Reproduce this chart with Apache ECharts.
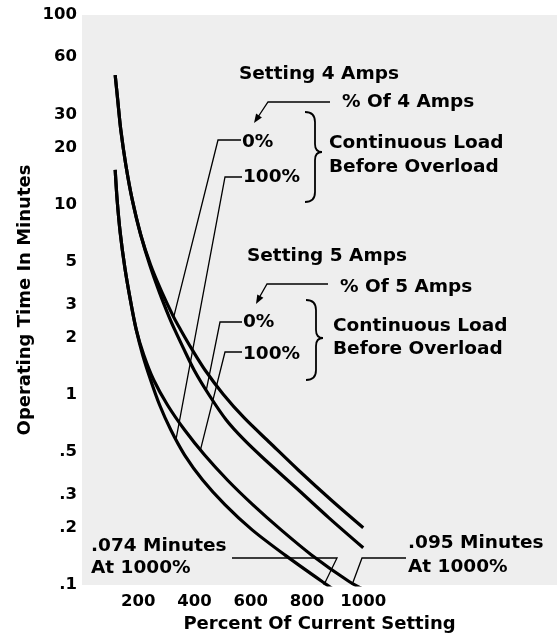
<!DOCTYPE html>
<html>
<head>
<meta charset="utf-8">
<script src="https://cdn.jsdelivr.net/npm/echarts@6/dist/echarts.min.js"></script>
<style>
  html, body { margin: 0; padding: 0; background: #ffffff; }
  #chart { width: 557px; height: 633px; }
</style>
</head>
<body>
<div id="chart"></div>
<script>
// Overload relay: operating time (minutes) against percent of current setting
const xTickValues = [200, 400, 600, 800, 1000];
const yTickValues = [0.1, 0.2, 0.3, 0.5, 1, 2, 3, 5, 10, 20, 30, 60, 100];

// Setting 4 A, 0 % continuous load before overload
const amps4Load0 = [
  [118, 48.3], [127, 35.7], [138, 24.8], [156, 16.2], [179, 10.6], [209, 6.95],
  [244, 4.83], [284, 3.48], [326, 2.57], [351, 2.20], [388, 1.77], [438, 1.35],
  [502, 1.01], [577, 0.757], [669, 0.559], [769, 0.403], [886, 0.280], [1000, 0.200]
];
// Setting 5 A, 0 % continuous load before overload
const amps5Load0 = [
  [118, 48.3], [127, 35.7], [138, 24.8], [156, 16.2], [179, 10.6], [209, 6.95],
  [241, 4.83], [275, 3.48], [310, 2.57], [330, 2.20], [360, 1.77], [399, 1.35],
  [452, 1.00], [513, 0.739], [577, 0.580], [644, 0.466], [762, 0.324], [879, 0.225],
  [1000, 0.157]
];
// Setting 4 A, 100 % continuous load before overload (.074 min at 1000 %)
const amps4Load100 = [
  [118, 15.3], [125, 10.6], [136, 7.12], [152, 4.72], [172, 3.16], [193, 2.20],
  [216, 1.62], [244, 1.20], [276, 0.886], [316, 0.654], [365, 0.483], [429, 0.357],
  [509, 0.264], [605, 0.195], [721, 0.144], [855, 0.104], [1000, 0.074]
];
// Setting 5 A, 100 % continuous load before overload (.095 min at 1000 %)
const amps5Load100 = [
  [118, 15.3], [125, 10.6], [136, 7.12], [152, 4.72], [172, 3.16], [193, 2.20],
  [220, 1.62], [255, 1.20], [304, 0.886], [365, 0.654], [436, 0.483], [517, 0.357],
  [608, 0.264], [708, 0.195], [816, 0.144], [951, 0.104], [1000, 0.095]
];

const FONT = '"DejaVu Sans", "Liberation Sans", sans-serif';
const INK = '#000000';

const chart = echarts.init(document.getElementById('chart'), null, { renderer: 'canvas' });

function curve(name, data) {
  return {
    name: name,
    type: 'line',
    data: data,
    showSymbol: false,
    smooth: 0.3,
    clip: true,
    lineStyle: { color: INK, width: 3.2 },
    emphasis: { disabled: true },
    silent: true
  };
}

function fmtY(v) {
  const n = Number(Number(v).toPrecision(3));
  return n < 1 ? String(n).replace(/^0/, '') : String(n);
}

chart.setOption({
  animation: false,
  grid: {
    left: 82, right: 0, top: 15, bottom: 48,
    outerBoundsMode: 'none',
    show: true, backgroundColor: '#eeeeee', borderWidth: 0
  },
  xAxis: {
    type: 'value',
    min: 0, max: 1689, interval: 200,
    axisLine: { show: false }, axisTick: { show: false }, splitLine: { show: false },
    axisLabel: {
      showMaxLabel: false,
      margin: 8,
      color: INK, fontSize: 16.5, fontWeight: 'bold', fontFamily: FONT,
      formatter: v => (xTickValues.indexOf(v) >= 0 ? String(v) : '')
    },
    name: 'Percent Of Current Setting',
    nameLocation: 'middle', nameGap: 25,
    nameTextStyle: { color: INK, fontSize: 18, fontWeight: 'bold', fontFamily: FONT }
  },
  yAxis: {
    type: 'log', logBase: 10, min: 0.1, max: 100,
    axisLine: { show: false }, axisTick: { show: false }, splitLine: { show: false },
    axisLabel: {
      customValues: yTickValues,
      margin: 5,
      color: INK, fontSize: 16.5, fontWeight: 'bold', fontFamily: FONT,
      formatter: fmtY
    },
    name: 'Operating Time In Minutes',
    nameLocation: 'middle', nameGap: 48, nameMoveOverlap: false,
    nameTextStyle: { color: INK, fontSize: 18, fontWeight: 'bold', fontFamily: FONT }
  },
  series: [
    curve('4 A, 0%', amps4Load0),
    curve('5 A, 0%', amps5Load0),
    curve('4 A, 100%', amps4Load100),
    curve('5 A, 100%', amps5Load100)
  ]
});

// ---- annotations ----
const toPx = p => chart.convertToPixel({ gridIndex: 0 }, p);

function label(text, x, y) {
  return {
    type: 'text', silent: true, z: 10,
    style: {
      text: text, x: x, y: y, fill: INK,
      fontSize: 18.5, fontWeight: 'bold', fontFamily: FONT,
      align: 'left', verticalAlign: 'middle'
    }
  };
}
function leader(points, width) {
  return {
    type: 'polyline', silent: true, z: 9,
    shape: { points: points },
    style: { stroke: INK, lineWidth: width || 1.3, fill: null }
  };
}
function arrowHead(from, tip, len, half) {
  const dx = tip[0] - from[0], dy = tip[1] - from[1];
  const d = Math.hypot(dx, dy);
  const ux = dx / d, uy = dy / d;
  const bx = tip[0] - ux * len, by = tip[1] - uy * len;
  return {
    type: 'polygon', silent: true, z: 9,
    shape: { points: [tip, [bx - uy * half, by + ux * half], [bx + uy * half, by - ux * half]] },
    style: { fill: INK }
  };
}
function bez(x1, y1, cx, cy, x2, y2) {
  return {
    type: 'bezierCurve', silent: true, z: 9,
    shape: { x1: x1, y1: y1, cpx1: cx, cpy1: cy, x2: x2, y2: y2 },
    style: { stroke: INK, lineWidth: 1.8, fill: null }
  };
}
function brace(xl, xm, xt, top, mid, bottom) {
  return [
    bez(xl, top, xm, top, xm, top + 10),
    leader([[xm, top + 10], [xm, mid - 8]], 1.8),
    bez(xm, mid - 8, xm, mid, xt, mid),
    bez(xt, mid, xm, mid, xm, mid + 8),
    leader([[xm, mid + 8], [xm, bottom - 10]], 1.8),
    bez(xm, bottom - 10, xm, bottom, xl, bottom)
  ];
}

const graphics = [
  // Setting 4 A block
  label('Setting 4 Amps', 239, 74),
  label('% Of 4 Amps', 342, 102),
  leader([[330, 102], [268, 102], [258, 117]]),
  arrowHead([268, 102], [254, 123], 9, 3.5),
  label('0%', 242, 142),
  label('100%', 243, 177),
  leader([[241, 140], [218, 140], toPx([326, 2.57])]),
  leader([[242, 177], [225, 177], toPx([334, 0.58])]),
  ...brace(305, 315, 322, 112, 152, 202),
  label('Continuous Load', 329, 143),
  label('Before Overload', 329, 167),

  // Setting 5 A block
  label('Setting 5 Amps', 247, 256),
  label('% Of 5 Amps', 340, 287),
  leader([[328, 284], [267, 284], [259, 298]]),
  arrowHead([267, 284], [256, 304], 9, 3.5),
  label('0%', 243, 322),
  label('100%', 243, 354),
  leader([[242, 322], [220, 322], toPx([442, 1.06])]),
  leader([[242, 352], [225, 352], toPx([421, 0.513])]),
  ...brace(306, 316, 323, 300, 338, 380),
  label('Continuous Load', 333, 326),
  label('Before Overload', 333, 349),

  // Values at 1000 %
  label('.074 Minutes', 91, 546),
  label('At 1000%', 91, 568),
  leader([[232, 558], [337, 558], toPx([860, 0.1])]),
  label('.095 Minutes', 408, 543),
  label('At 1000%', 408, 567),
  leader([[406, 558], [362, 558], toPx([960, 0.1])])
];

chart.setOption({ graphic: graphics });
</script>
</body>
</html>
